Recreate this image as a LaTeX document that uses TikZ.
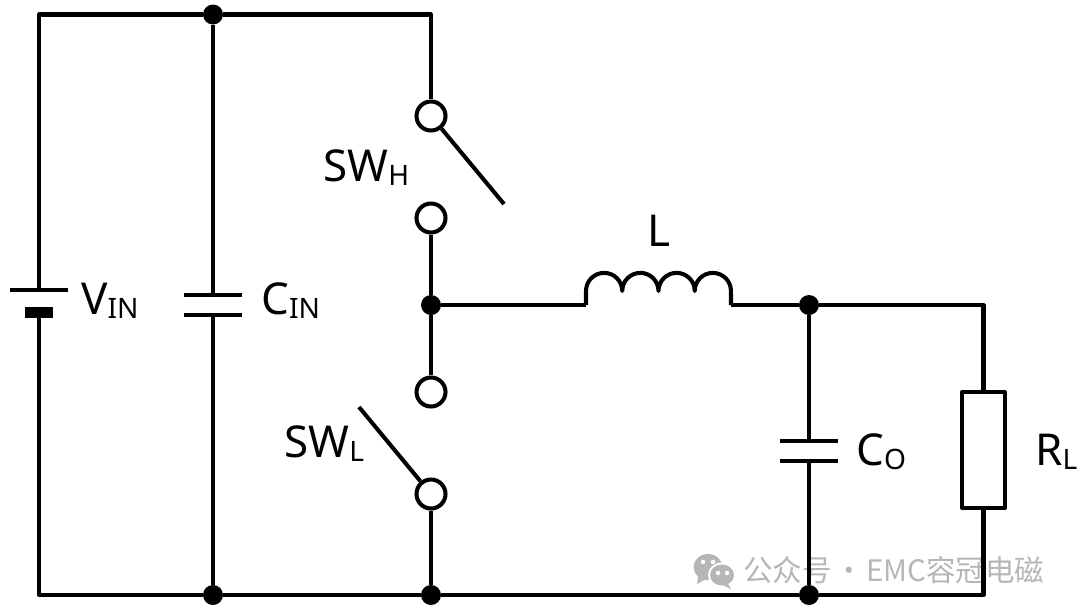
\documentclass[tikz,border=0pt]{standalone}
\usepackage{fontspec}
\setmainfont{Noto Sans}
\newfontfamily\cjkfont{Noto Sans CJK SC}
\usetikzlibrary{positioning, calc}
\definecolor{markgray}{HTML}{B6B6B6}
\newcommand{\partlabel}[2]{{\fontsize{25pt}{25pt}\selectfont #1\raisebox{-2.8pt}{\fontsize{16pt}{16pt}\selectfont #2}}}
\tikzset{
	wire/.style={
		line width=2.3pt,
		line join=round
	},
	junction/.style={
		draw=none,
		fill=black,
		circle,
		inner sep=0pt,
		minimum size=0.4cm
	},
	contact/.style={
		draw,
		circle,
		fill=white,
		line width=2.3pt,
		inner sep=0pt,
		minimum size=0.58cm
	},
	plate/.style={
		fill=black,
		rectangle,
		inner sep=0pt,
		minimum width=1.16cm,
		minimum height=2.3pt
	},
	part/.style={
		anchor=base west,
		inner sep=0pt
	}
}

\begin{document}
\begin{tikzpicture}[x=0.02cm, y=-0.02cm]
	\useasboundingbox (0,0) rectangle (1080,613);

	% watermark
	\fill[markgray] (708,567) ellipse [x radius=0.29cm, y radius=0.26cm];
	\fill[markgray] (698,576) -- (697,584) -- (706,579) -- cycle;
	\fill[white] (722,575) ellipse [x radius=0.28cm, y radius=0.25cm];
	\fill[markgray] (722,575) ellipse [x radius=0.24cm, y radius=0.21cm];
	\fill[markgray] (727,582) -- (731,589) -- (721,584) -- cycle;
	\foreach \ex/\ey in {703/562, 713/562, 718/573, 727/573} {
		\fill[white] (\ex,\ey) circle [radius=0.045cm];
	}
	\node[anchor=base west, inner sep=0pt, text=markgray] (mark) at (743,581.5)
		{\fontsize{16.8pt}{16.8pt}\selectfont\cjkfont 公众号\hspace{-2.4pt} · \hspace{-2.4pt}EMC容冠电磁};

	% corners and junctions
	\coordinate (tl) at (39,14.5);
	\coordinate (bl) at (39,595);
	\coordinate (tr) at (431,14.5);
	\coordinate (rt) at (983.5,305);
	\coordinate (rb) at (983.5,595);
	\coordinate (coilin) at (586,305);
	\coordinate (coilout) at (731,305);
	\node[junction] (top) at (213,14.5) {};
	\node[junction] (botin) at (213,595) {};
	\node[junction] (botsw) at (431,595) {};
	\node[junction] (botout) at (809,595) {};
	\node[junction] (mid) at (431,305) {};
	\node[junction] (out) at (809,305) {};

	% battery and capacitors
	\node[plate] (vinp) at (39,290) {};
	\node[plate, minimum width=0.58cm, minimum height=0.22cm] (vinn) at (39,312.5) {};
	\node[plate] (cina) at (213,295) {};
	\node[plate] (cinb) at (213,315) {};
	\node[plate] (coa) at (809,441) {};
	\node[plate] (cob) at (809,461) {};

	% load
	\node[draw, wire, rectangle, inner sep=0pt, minimum width=0.86cm, minimum height=2.32cm] (load) at (983.5,450) {};

	% switch contacts
	\node[contact] (hi) at (431,116) {};
	\node[contact] (ho) at (431,218) {};
	\node[contact] (lo) at (431,392) {};
	\node[contact] (li) at (431,494) {};
	\coordinate (htip) at (504,204);
	\coordinate (ltip) at (359,407);

	\begin{scope}[wire]
	% rails
	\draw (vinp) -- (tl) -- (top) -- (tr) -- (hi);
	\draw (vinn) -- (bl) -- (botin) -- (botsw) -- (botout) -- (rb) -- (load);
	\draw (top) -- (cina);
	\draw (cinb) -- (botin);
	\draw (out) -- (coa);
	\draw (cob) -- (botout);
	\draw (out) -- (rt) -- (load);

	% switches
	\draw (ho) -- (mid) -- (lo);
	\draw (li) -- (botsw);
	\draw (hi) -- (htip);
	\draw (li) -- (ltip);

	% inductor
	\draw (mid) -- (coilin);
	\draw (coilin) -- ++(0,-14) \foreach \turn in {1,2,3,4} {
		arc[start angle=180, end angle=0, radius=0.3625cm]
	} -- (coilout);
	\draw (coilout) -- (out);
	\end{scope}

	% part labels
	\node[part] (vinlabel) at (81,314) {\partlabel{V}{IN}};
	\node[part] (cinlabel) at (261,314) {\partlabel{C}{IN}};
	\node[part] (swhlabel) at (323,181) {\partlabel{SW}{H}};
	\node[part] (swllabel) at (284,457) {\partlabel{SW}{L}};
	\node[part] (llabel) at (647,246) {\partlabel{L}{}};
	\node[part] (colabel) at (856,465) {\partlabel{C}{O}};
	\node[part] (rllabel) at (1035,465) {\partlabel{R}{L}};
\end{tikzpicture}
\end{document}
